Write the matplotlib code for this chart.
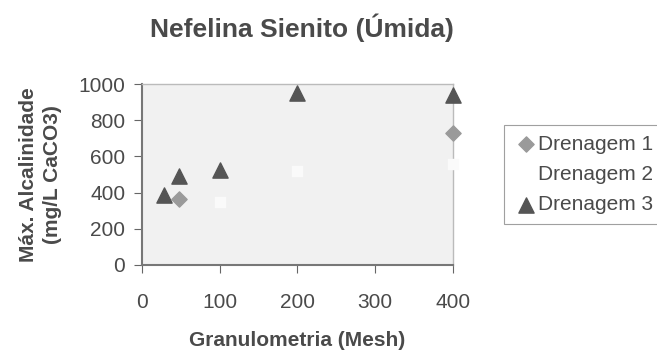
import matplotlib
matplotlib.use('Agg')
import matplotlib.pyplot as plt

plt.rcParams['font.family'] = ['Liberation Sans', 'DejaVu Sans']

# Granulometria (Mesh) vs max alkalinity (mg/L CaCO3)
mesh_d1 = [48, 400]
alc_d1 = [365, 730]
mesh_d2 = [100, 200, 400]
alc_d2 = [350, 520, 560]
mesh_d3 = [28, 48, 100, 200, 400]
alc_d3 = [387, 492, 525, 952, 940]

txt = '#4a4a4a'

fig = plt.figure(figsize=(6.57, 3.5), dpi=100)
ax = fig.add_axes([0.216, 0.243, 0.473, 0.517])
ax.set_facecolor('#f1f1f1')

ax.scatter(mesh_d1, alc_d1, marker='D', s=60, color='#9a9a9a', label='Drenagem 1', zorder=3, clip_on=False)
ax.scatter(mesh_d2, alc_d2, marker='s', s=50, color='#fafafa', label='Drenagem 2', zorder=3, clip_on=False)
ax.scatter(mesh_d3, alc_d3, marker='^', s=120, color='#555555', label='Drenagem 3', zorder=4, clip_on=False)

ax.set_xlim(0, 400)
ax.set_ylim(0, 1000)
ax.set_xticks([0, 100, 200, 300, 400])
ax.set_yticks(range(0, 1001, 200))
ax.tick_params(colors='#666666', labelcolor=txt, labelsize=15, direction='out', length=6)
ax.tick_params(axis='x', pad=14)
ax.tick_params(axis='y', pad=6)

for side in ['left', 'bottom']:
    ax.spines[side].set_color('#777777')
    ax.spines[side].set_linewidth(1.5)
for side in ['top', 'right']:
    ax.spines[side].set_color('#bbbbbb')
    ax.spines[side].set_linewidth(1.0)

fig.text(0.46, 0.92, 'Nefelina Sienito (Úmida)', fontsize=19, fontweight='bold', color=txt,
         ha='center', va='center')
ax.set_xlabel('Granulometria (Mesh)', fontsize=15, fontweight='bold', color=txt, labelpad=14)
ax.set_ylabel('Máx. Alcalinidade\n(mg/L CaCO3)', fontsize=15, fontweight='bold', color=txt,
              labelpad=12, linespacing=1.3)

leg = ax.legend(loc='center left', bbox_to_anchor=(1.164, 0.5), fontsize=15, frameon=True,
                fancybox=False, edgecolor='#888888', handletextpad=0.0, borderpad=0.45,
                borderaxespad=0, labelspacing=0.55, handlelength=1.2, labelcolor=txt)
leg.get_frame().set_linewidth(0.8)
leg.legend_handles[1].set_color('white')

fig.savefig('out.png', dpi=100, facecolor='white')
